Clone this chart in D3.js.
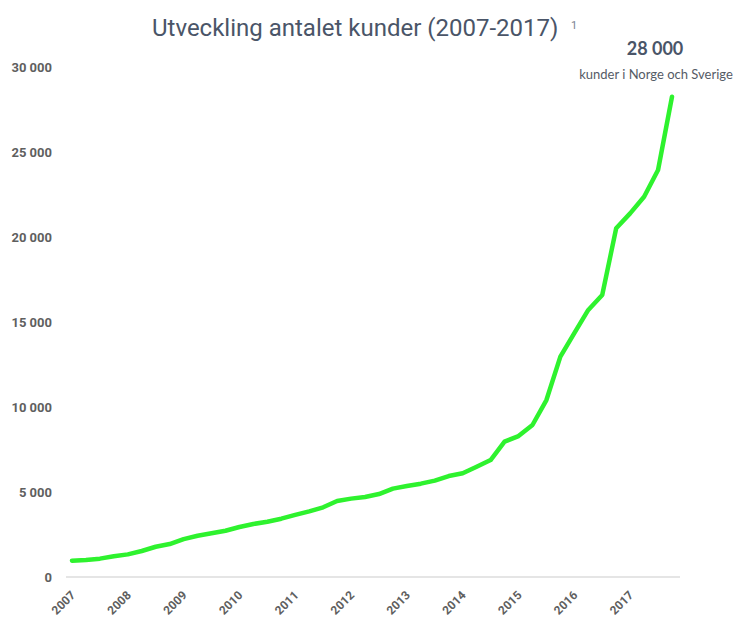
<!DOCTYPE html>
<html><head><meta charset="utf-8">
<script src="https://cdn.jsdelivr.net/npm/d3@7"></script>
<style>
html,body{margin:0;padding:0;background:#fff;}
svg{display:block;}
</style></head>
<body>
<svg id="chart" width="734" height="617"></svg>
<script>
const years = ["2007","2008","2009","2010","2011","2012","2013","2014","2015","2016","2017"];
const quarters = ["Q1","Q2","Q3","Q4"];
const customers = [
  960, 1000, 1080, 1220, 1330, 1530, 1780, 1940,
  2230, 2430, 2570, 2720, 2940, 3120, 3250, 3430,
  3650, 3860, 4100, 4470, 4610, 4710, 4880, 5200,
  5350, 5490, 5670, 5940, 6100, 6490, 6880, 7960,
  8290, 8940, 10410, 12960, 14350, 15710, 16590, 20510,
  21390, 22370, 23940, 28250
];
const yTicks = [0, 5000, 10000, 15000, 20000, 25000, 30000];
const titleText = "Utveckling antalet kunder (2007-2017)";
const footnote = "1";
const calloutValue = "28 000";
const calloutText = "kunder i Norge och Sverige";

const svg = d3.select("#chart");
const x = d3.scaleLinear().domain([0, customers.length - 1]).range([72, 672]);
const y = d3.scaleLinear().domain([0, 30000]).range([577, 67]);
const loc = d3.formatLocale({decimal: ",", thousands: " ", grouping: [3], currency: ["", ""]});
const fmt = loc.format(",");

// title
svg.append("text")
  .attr("x", 152).attr("y", 36)
  .attr("font-family", "Roboto").attr("font-size", 24)
  .attr("fill", "#4a5568")
  .text(titleText);
svg.append("text")
  .attr("x", 571).attr("y", 29)
  .attr("font-family", "Roboto").attr("font-size", 11)
  .attr("fill", "#7a8290")
  .text(footnote);

// baseline
svg.append("line")
  .attr("x1", 66).attr("x2", 680)
  .attr("y1", y(0)).attr("y2", y(0))
  .attr("stroke", "#dddddd").attr("stroke-width", 1.5);

// y axis
const yAxis = d3.axisLeft(y).tickValues(yTicks).tickFormat(fmt).tickSize(0).tickPadding(0);
const gy = svg.append("g").attr("transform", "translate(52,0)").call(yAxis);
gy.select(".domain").remove();
gy.selectAll("text")
  .attr("font-family", "Roboto").attr("font-size", 13).attr("font-weight", "bold")
  .attr("fill", "#5f5f5f").attr("dy", "0.35em");

// x axis labels (rotated)
const xTickIdx = d3.range(0, customers.length, 4);
svg.append("g").selectAll("text")
  .data(xTickIdx)
  .join("text")
  .attr("transform", i => "translate(" + (x(i) + 4) + "," + (y(0) + 19) + ") rotate(-45)")
  .attr("text-anchor", "end")
  .attr("font-family", "Roboto").attr("font-size", 12).attr("font-weight", "bold")
  .attr("fill", "#5f5f5f")
  .text(i => years[i / 4]);

// line
const line = d3.line().x((d, i) => x(i)).y(d => y(d));
svg.append("path")
  .datum(customers)
  .attr("d", line)
  .attr("fill", "none")
  .attr("stroke", "#2ef22e")
  .attr("stroke-width", 4.5)
  .attr("stroke-linejoin", "round")
  .attr("stroke-linecap", "round");

// callout
svg.append("text")
  .attr("x", 655).attr("y", 55)
  .attr("text-anchor", "middle")
  .attr("font-family", "Lato").attr("font-size", 18).attr("font-weight", "bold")
  .attr("fill", "#4a5568")
  .text(calloutValue);
svg.append("text")
  .attr("x", 656).attr("y", 79)
  .attr("text-anchor", "middle")
  .attr("font-family", "Lato").attr("font-size", 13)
  .attr("fill", "#555b66")
  .text(calloutText);
</script>
</body></html>
